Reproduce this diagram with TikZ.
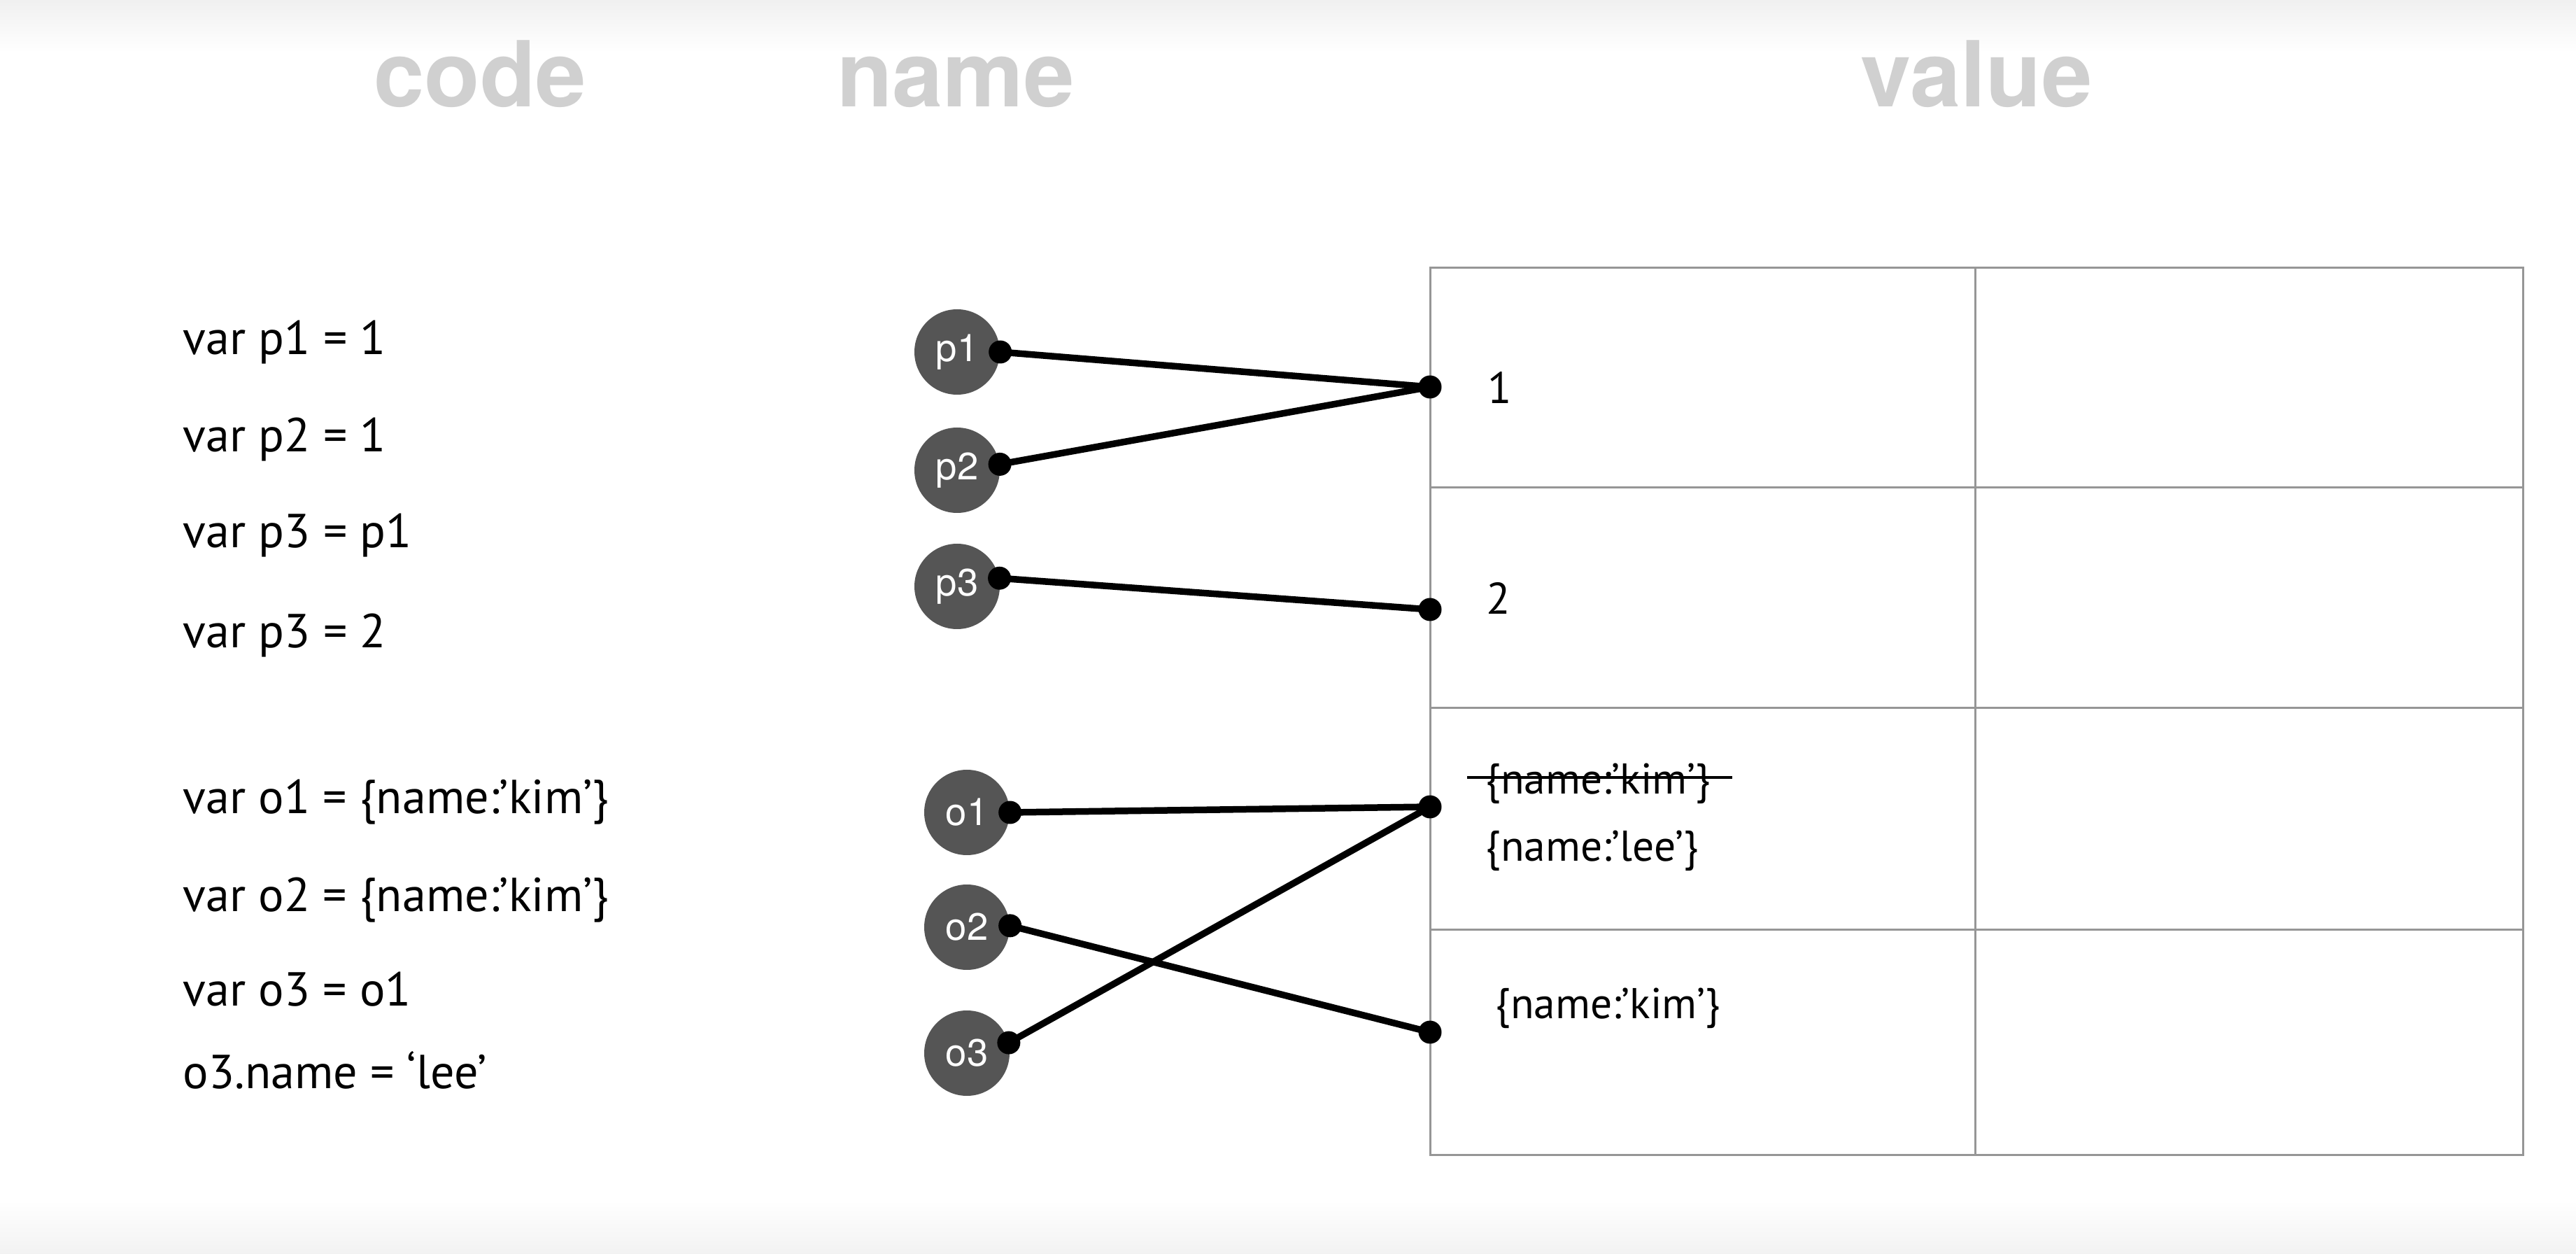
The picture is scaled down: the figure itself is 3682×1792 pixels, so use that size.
\documentclass[tikz,border=0pt]{standalone}
\usepackage{fontspec}
\setmainfont{PT Sans}
\newfontfamily\headfont{TeX Gyre Heros}
\usepackage{tikz}
\usetikzlibrary{shapes.geometric, arrows, backgrounds}
\definecolor{headgray}{RGB}{208,208,208}
\definecolor{circlegray}{RGB}{85,85,85}
\definecolor{gridgray}{RGB}{150,150,150}
\tikzstyle{header} = [anchor=base, inner sep=0, text=headgray, font=\headfont\bfseries\fontsize{37}{40}\selectfont]
\tikzstyle{codeline} = [anchor=base west, inner sep=0, font=\fontsize{19.4}{23}\selectfont]
\tikzstyle{varcircle} = [circle, minimum size=12.2mm, inner sep=0, fill=circlegray, text=white, font=\headfont\fontsize{15.5}{18}\selectfont]
\tikzstyle{refdot} = [circle, minimum size=3.3mm, inner sep=0, fill=black]
\tikzstyle{valnum} = [anchor=base west, inner sep=0, font=\fontsize{18}{22}\selectfont]
\tikzstyle{valobj} = [anchor=base west, inner sep=0, font=\fontsize{17.5}{21}\selectfont]
\tikzstyle{ref} = [line width=0.95mm, black]
\tikzstyle{tablegrid} = [line width=0.3mm, draw=gridgray]

\begin{document}
\begin{tikzpicture}[x=0.1mm, y=-0.1mm]
        \useasboundingbox (0,0) rectangle (3682,1792);
        % screen fade top and bottom
        \shade[top color=gray!12, bottom color=white] (0,0) rectangle (3682,75);
        \shade[top color=white, bottom color=gray!10] (0,1715) rectangle (3682,1792);

        \node (code) [header] at (686,153) {code};
        \node (name) [header] at (1366,153) {name};
        \node (value) [header] at (2825,153) {value};

        \node (line1) [codeline] at (261,507) {var p1 = 1};
        \node (line2) [codeline] at (261,646) {var p2 = 1};
        \node (line3) [codeline] at (261,783) {var p3 = p1};
        \node (line4) [codeline] at (261,926) {var p3 = 2};
        \node (line5) [codeline] at (261,1163) {var o1 = \{name:’kim’\}};
        \node (line6) [codeline] at (261,1303) {var o2 = \{name:’kim’\}};
        \node (line7) [codeline] at (261,1437) {var o3 = o1};
        \node (line8) [codeline] at (261,1555) {o3.name = ‘lee’};

        % memory table
        \draw [tablegrid] (2044,383) rectangle (3606,1650);
        \draw [tablegrid] (2823,383) -- (2823,1650);
        \foreach \y in {697,1012,1328}
            \draw [tablegrid] (2044,\y) -- (3606,\y);

        \node (p1) [varcircle] at (1368,503) {p1};
        \node (p2) [varcircle] at (1368,672) {p2};
        \node (p3) [varcircle] at (1368,838) {p3};
        \node (o1) [varcircle] at (1382,1161) {o1};
        \node (o2) [varcircle] at (1382,1325) {o2};
        \node (o3) [varcircle] at (1382,1505) {o3};

        \node (p1d) [refdot] at (p1.0) {};
        \node (p2d) [refdot] at (p2.8) {};
        \node (p3d) [refdot] at (p3.11) {};
        \node (o1d) [refdot] at (o1.0) {};
        \node (o2d) [refdot] at (o2.2) {};
        \node (o3d) [refdot] at (o3.14) {};

        \node (v1) [refdot] at (2044,553) {};
        \node (v2) [refdot] at (2044,871) {};
        \node (v3) [refdot] at (2044,1153) {};
        \node (v4) [refdot] at (2044,1475) {};

        \node (one) [valnum] at (2126,577) {1};
        \node (two) [valnum] at (2124,878) {2};
        \node (oldobj) [valobj] at (2123,1135) {\{name:’kim’\}};
        \node (newobj) [valobj] at (2123,1230) {\{name:’lee’\}};
        \node (kimobj) [valobj] at (2137,1455) {\{name:’kim’\}};
        \draw [line width=0.35mm] ([xshift=-2.6mm,yshift=2.4mm]oldobj.base west) -- ([xshift=3mm,yshift=2.4mm]oldobj.base east);

        \draw [ref] (p1d.center) -- (v1.center);
        \draw [ref] (p2d.center) -- (v1.center);
        \draw [ref] (p3d.center) -- (v2.center);
        \draw [ref] (o1d.center) -- (v3.center);
        \draw [ref] (o2d.center) -- (v4.center);
        \draw [ref] (o3d.center) -- (v3.center);

\end{tikzpicture}
\end{document}
